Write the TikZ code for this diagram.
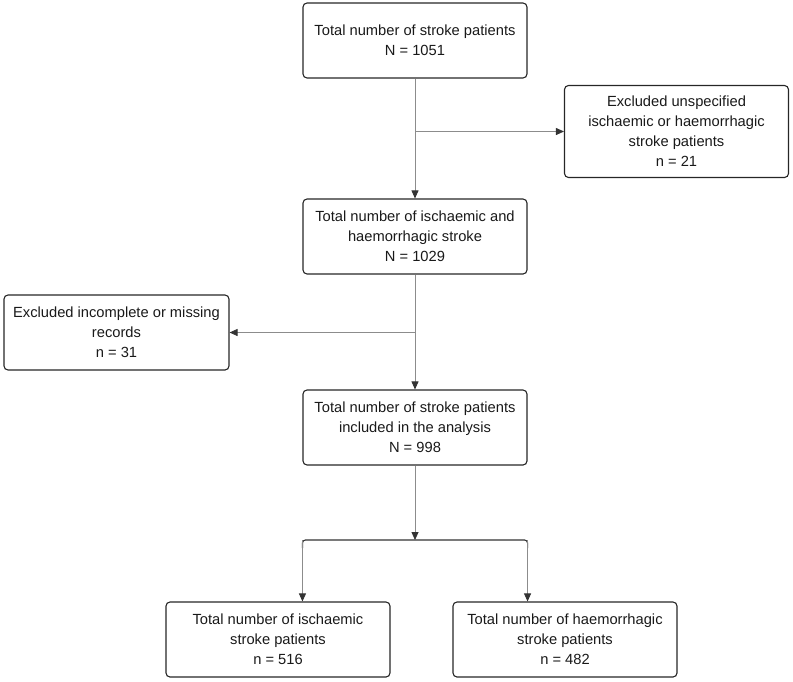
\documentclass[tikz,border=0pt]{standalone}
\usepackage{fontspec}
\setmainfont{Liberation Sans}
\usetikzlibrary{arrows.meta,positioning}

\begin{document}
\begin{tikzpicture}[
  x=1pt,y=-1pt,
  font=\fontsize{14.7}{20}\selectfont,
  box/.style={draw=black!85,line width=1.1pt,rounded corners=4pt,align=center,
    minimum width=224pt,minimum height=75pt,inner sep=2pt,text=black!90},
  flow/.style={draw=black!45,line width=0.8pt,
    -{Triangle[length=8pt,width=7pt,color=black!80]}},
  bar/.style={draw=black!80,line width=1.1pt,rounded corners=3pt}
]
\useasboundingbox (0,0) rectangle (793,681);

% Main column
\node[box] (total) at (415,40.5) {Total number of stroke patients\\N = 1051};
\node[box] (ishaem) at (415,236.5) {Total number of ischaemic and\\haemorrhagic stroke\\N = 1029};
\node[box] (analysis) at (415,427.5) {Total number of stroke patients\\included in the analysis\\N = 998};

% Exclusions
\node[box,minimum height=92pt] (excla) at (676.5,131.5)
  {Excluded unspecified\\ischaemic or haemorrhagic\\stroke patients\\n = 21};
\node[box,minimum width=225pt] (exclb) at (116.5,332.5)
  {Excluded incomplete or missing\\records\\n = 31};

% Subgroups
\node[box] (isch) at (278,639.5) {Total number of ischaemic\\stroke patients\\n = 516};
\node[box] (haem) at (565,639.5) {Total number of haemorrhagic\\stroke patients\\n = 482};

% Connectors
\draw[flow] (total) -- (ishaem);
\coordinate (bra) at (total.south |- excla);
\draw[flow] (bra) -- (excla.west);
\draw[flow] (ishaem) -- (analysis);
\coordinate (brb) at (analysis.north |- exclb);
\draw[flow] (brb) -- (exclb.east);

\coordinate (split) at (415,540);
\coordinate (splitL) at (analysis.west |- split);
\coordinate (splitR) at (analysis.east |- split);
\draw[flow] (analysis) -- (split);
\draw[bar] ([yshift=-8pt]splitL) -- (splitL) -- (splitR) -- ([yshift=-8pt]splitR);
\draw[flow] (splitL) -- (splitL |- isch.north);
\draw[flow] (splitR) -- (splitR |- haem.north);
\end{tikzpicture}
\end{document}
